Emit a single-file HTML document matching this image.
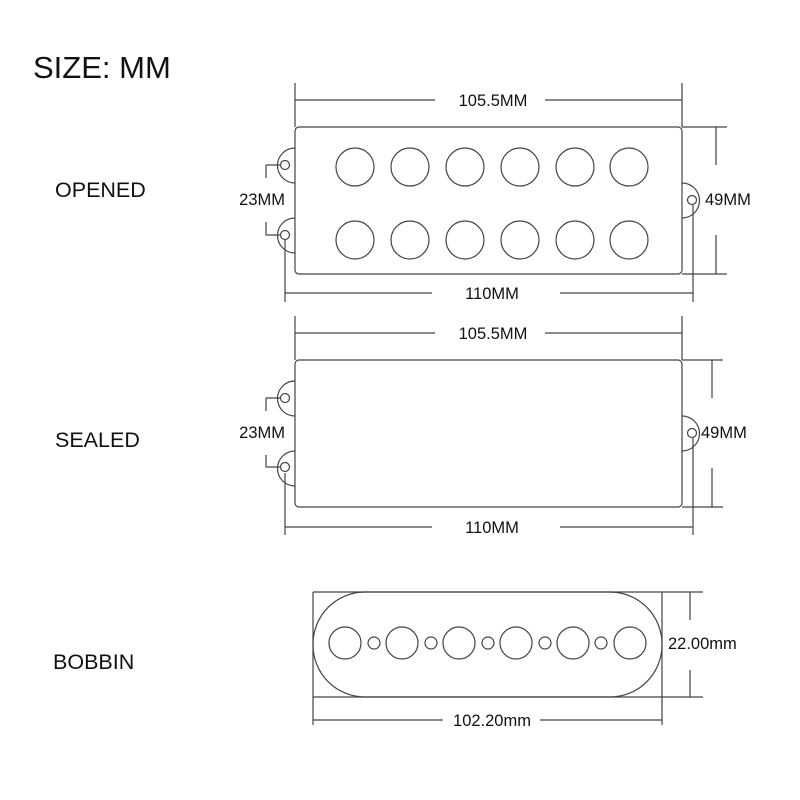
<!DOCTYPE html>
<html><head><style>body{margin:0;background:#fff}svg{display:block}</style></head><body>
<svg width="800" height="800" viewBox="0 0 800 800" xmlns="http://www.w3.org/2000/svg" font-family="Liberation Sans, sans-serif">
<rect width="800" height="800" fill="#fff"/>
<text x="33" y="78" font-size="31" fill="#111">SIZE: MM</text>
<text x="55" y="197" font-size="21.5" fill="#111">OPENED</text>
<text x="55" y="447" font-size="21.5" fill="#111">SEALED</text>
<text x="53" y="669" font-size="21.5" fill="#111">BOBBIN</text>
<g fill="none" stroke="#444" stroke-width="1.2">
<path d="M295 148 A17 17 0 0 0 295 183"/><circle cx="285" cy="165" r="4.5"/>
<path d="M295 218 A17 17 0 0 0 295 253"/><circle cx="285" cy="235" r="4.5"/>
<path d="M682 183 A17 17 0 0 1 682 218"/><circle cx="692" cy="200" r="4.5"/>
<rect x="295" y="127" width="387" height="147" rx="4" fill="#fff"/>
<g>
<circle cx="355" cy="167" r="19"/><circle cx="410" cy="167" r="19"/><circle cx="465" cy="167" r="19"/><circle cx="520" cy="167" r="19"/><circle cx="575" cy="167" r="19"/><circle cx="629" cy="167" r="19"/>
<circle cx="355" cy="240" r="19"/><circle cx="410" cy="240" r="19"/><circle cx="465" cy="240" r="19"/><circle cx="520" cy="240" r="19"/><circle cx="575" cy="240" r="19"/><circle cx="629" cy="240" r="19"/>
</g>
<path d="M295 83V127M682 83V127M295 100H435M545 100H682"/>
<path d="M285 240V302M693 205V302M285 293H432M560 293H693"/>
<path d="M682 127H727M682 274H727M716 127V165M716 235V274"/>
<path d="M266 165H280M266 165V178M266 222V235H280"/>
<path d="M295 381 A17 17 0 0 0 295 416"/><circle cx="285" cy="398" r="4.5"/>
<path d="M295 451 A17 17 0 0 0 295 486"/><circle cx="285" cy="467" r="4.5"/>
<path d="M682 416 A17 17 0 0 1 682 451"/><circle cx="692" cy="433" r="4.5"/>
<rect x="295" y="360" width="387" height="147" rx="4" fill="#fff"/>
<path d="M295 316V360M682 316V360M295 333H435M545 333H682"/>
<path d="M285 473V535M693 438V535M285 527H432M560 527H693"/>
<path d="M682 360H723M682 507H723M712 360V398M712 468V507"/>
<path d="M266 398H280M266 398V411M266 455V467H280"/>
<rect x="313" y="592" width="349" height="105" rx="52"/>
<path d="M313 592H662M313 697H703M313 592V725M662 592V725M662 592H703M690 592V620M690 670V697M313 720H443M540 720H662"/>
<circle cx="345" cy="643" r="16"/><circle cx="402" cy="643" r="16"/><circle cx="459" cy="643" r="16"/><circle cx="516" cy="643" r="16"/><circle cx="573" cy="643" r="16"/><circle cx="630" cy="643" r="16"/>
<circle cx="374" cy="643" r="6"/><circle cx="431" cy="643" r="6"/><circle cx="488" cy="643" r="6"/><circle cx="545" cy="643" r="6"/><circle cx="601" cy="643" r="6"/>
</g>
<g font-size="16.5" fill="#111">
<text x="493" y="106" text-anchor="middle">105.5MM</text>
<text x="492" y="299" text-anchor="middle">110MM</text>
<text x="705" y="205">49MM</text>
<text x="285" y="205" text-anchor="end">23MM</text>
<text x="493" y="339" text-anchor="middle">105.5MM</text>
<text x="492" y="533" text-anchor="middle">110MM</text>
<text x="701" y="438">49MM</text>
<text x="285" y="438" text-anchor="end">23MM</text>
<text x="668" y="649">22.00mm</text>
<text x="492" y="726" text-anchor="middle">102.20mm</text>
</g>
</svg>
</body></html>
